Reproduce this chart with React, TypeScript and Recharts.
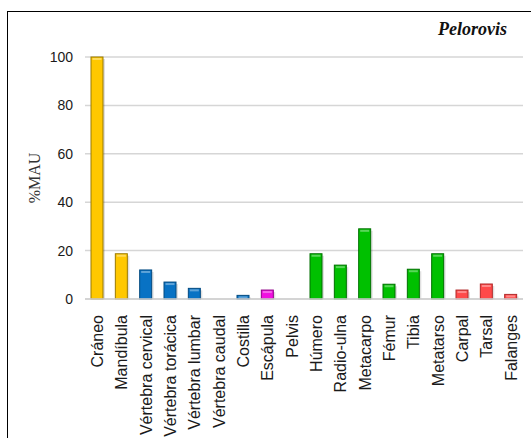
import { BarChart, Bar, XAxis, YAxis, CartesianGrid, Cell } from "recharts";

const elements = [
  "Cráneo",
  "Mandíbula",
  "Vértebra cervical",
  "Vértebra torácica",
  "Vértebra lumbar",
  "Vértebra caudal",
  "Costilla",
  "Escápula",
  "Pelvis",
  "Húmero",
  "Radio-ulna",
  "Metacarpo",
  "Fémur",
  "Tibia",
  "Metatarso",
  "Carpal",
  "Tarsal",
  "Falanges",
];

const mauValues = [100, 18.7, 12, 7, 4.4, 0, 1.5, 3.7, 0, 18.7, 14, 29, 6.1, 12.3, 18.7, 3.7, 6.2, 1.9];

const regions = [
  "cranial",
  "cranial",
  "axial",
  "axial",
  "axial",
  "axial",
  "axial",
  "girdle",
  "limb",
  "limb",
  "limb",
  "limb",
  "limb",
  "limb",
  "limb",
  "foot",
  "foot",
  "foot",
];

const yTicks = [0, 20, 40, 60, 80, 100];

const regionColors: Record<string, { fill: string; edge: string }> = {
  cranial: { fill: "#FFC800", edge: "#9a7a00" },
  axial: { fill: "#0872C4", edge: "#034a80" },
  girdle: { fill: "#F010E0", edge: "#900088" },
  limb: { fill: "#00C000", edge: "#007000" },
  foot: { fill: "#FF4A4A", edge: "#b02a2a" },
};

const chartData = elements.map((name, i) => ({
  name,
  mau: mauValues[i],
  region: regions[i],
}));

const BarShape = (props: any) => {
  const { x, y, width, height, payload } = props;
  if (!height || height <= 0) return null;
  const c = regionColors[payload.region];
  return (
    <g>
      <rect x={x + 2} y={y + 2} width={width} height={height - 2} fill="#000" opacity={0.12} />
      <rect x={x} y={y} width={width} height={height} fill={c.fill} stroke={c.edge} strokeWidth={1} />
      <rect x={x + 1.5} y={y + 1} width={width - 3} height={Math.min(2, height - 1)} fill="#fff" opacity={0.35} />
    </g>
  );
};

const CategoryTick = (props: any) => {
  const { x, y, payload } = props;
  return (
    <text
      transform={`translate(${x},${y + 8}) rotate(-90)`}
      textAnchor="end"
      dy="0.36em"
      fontSize={16}
      fontFamily="'Liberation Sans', Arial, sans-serif"
      fill="#1a1a1a"
    >
      {payload.value}
    </text>
  );
};

export default function App() {
  return (
    <div style={{ position: "relative", width: 531, height: 438, overflow: "hidden", background: "#fff" }}>
      <style>{`body{margin:0}`}</style>
      <div
        style={{
          position: "absolute",
          left: 7,
          top: 11,
          width: 600,
          height: 600,
          border: "1px solid #000",
        }}
      />
      <div style={{ position: "absolute", left: 0, top: 0 }}>
        <BarChart
          width={531}
          height={438}
          data={chartData}
          margin={{ top: 57, right: 8, left: 0, bottom: 0 }}
          barCategoryGap={0}
        >
          <CartesianGrid vertical={false} stroke="#d6d6d6" strokeWidth={1.5} />
          <XAxis
            dataKey="name"
            interval={0}
            height={139}
            tickLine={false}
            axisLine={{ stroke: "#d0d0d0", strokeWidth: 1.5 }}
            tick={<CategoryTick />}
          />
          <YAxis
            width={85}
            domain={[0, 100]}
            ticks={yTicks}
            axisLine={false}
            tickLine={false}
            tickMargin={6}
            tick={{ fontSize: 14, fill: "#1a1a1a", fontFamily: "'Liberation Sans', Arial, sans-serif" }}
            label={{
              value: "%MAU",
              angle: -90,
              position: "insideLeft",
              offset: 0,
              dx: 34,
              style: { fontSize: 16, fill: "#333", fontFamily: "'Liberation Serif', 'Times New Roman', serif", textAnchor: "middle" },
            }}
          />
          <Bar dataKey="mau" barSize={12} isAnimationActive={false} shape={<BarShape />}>
            {chartData.map((d) => (
              <Cell key={d.name} fill={regionColors[d.region].fill} />
            ))}
          </Bar>
          <text
            x={507}
            y={35}
            textAnchor="end"
            fontSize={18}
            fontStyle="italic"
            fontWeight="bold"
            fontFamily="'Liberation Serif', 'Times New Roman', serif"
            fill="#111"
          >
            Pelorovis
          </text>
        </BarChart>
      </div>
    </div>
  );
}
